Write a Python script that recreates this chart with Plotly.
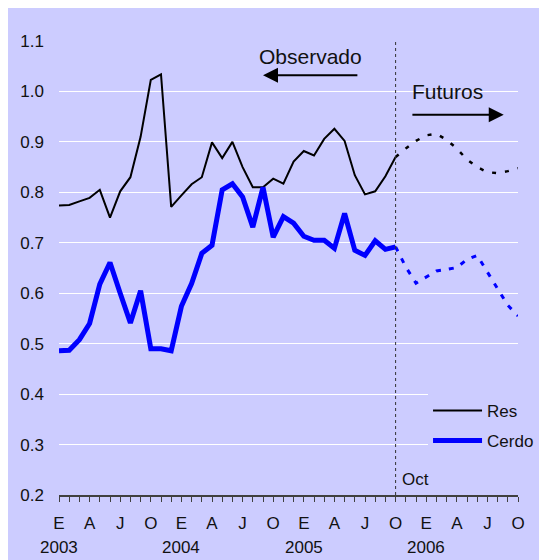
import plotly.graph_objects as go

# ---- data ----
years = [2003, 2004, 2005, 2006]
month_letters = ["E", "F", "M", "A", "M", "J", "J", "A", "S", "O", "N", "D"]
months = [f"{y}-{m:02d}" for y in years for m in range(1, 13)][:46]  # Jan 2003 .. Oct 2006

res_obs = [0.774, 0.775, 0.782, 0.789, 0.805, 0.750, 0.802, 0.830, 0.910, 1.023,
           1.034, 0.771, 0.794, 0.816, 0.830, 0.899, 0.868, 0.900, 0.850, 0.810,
           0.810, 0.827, 0.817, 0.861, 0.882, 0.873, 0.906, 0.926, 0.902, 0.834,
           0.796, 0.802, 0.832, 0.870]
res_fut = [0.870, 0.887, 0.902, 0.913, 0.916, 0.904, 0.887, 0.865, 0.850, 0.840,
           0.838, 0.842, 0.848]
cerdo_obs = [0.486, 0.487, 0.508, 0.540, 0.618, 0.661, 0.600, 0.541, 0.605, 0.490,
             0.490, 0.486, 0.574, 0.619, 0.679, 0.695, 0.805, 0.817, 0.791, 0.731,
             0.810, 0.711, 0.752, 0.739, 0.713, 0.705, 0.705, 0.689, 0.758, 0.685,
             0.675, 0.704, 0.687, 0.692]
cerdo_fut = [0.692, 0.652, 0.620, 0.632, 0.644, 0.647, 0.651, 0.667, 0.675, 0.642,
             0.609, 0.576, 0.555]

obs_months = months[:len(res_obs)]
fut_months = months[len(res_obs) - 1:]
split_month = months[len(res_obs) - 1]

BG = "#CCCCFF"
FONT = "Liberation Sans, Arial, sans-serif"

fig = go.Figure()
fig.add_trace(go.Scatter(x=obs_months, y=res_obs, mode="lines", name="Res",
                         legendgroup="a", line=dict(color="black", width=2)))
fig.add_trace(go.Scatter(x=obs_months, y=cerdo_obs, mode="lines", name="Cerdo",
                         legendgroup="b", line=dict(color="#0000FF", width=5)))
fig.add_trace(go.Scatter(x=fut_months, y=res_fut, mode="lines", showlegend=False,
                         line=dict(color="black", width=2.5, dash="4px,9px")))
fig.add_trace(go.Scatter(x=fut_months, y=cerdo_fut, mode="lines", showlegend=False,
                         line=dict(color="#0000FF", width=3, dash="5px,8px")))

fig.add_vline(x=months.index(split_month), line=dict(color="#333333", width=1, dash="dot"))

ticktext = [month_letters[i % 12] if i % 3 == 0 else "" for i in range(len(months))]

fig.update_xaxes(type="category", categoryorder="array", categoryarray=months,
                 range=[0, len(months) - 1], tickvals=months, ticktext=ticktext,
                 ticks="outside", ticklen=5, tickcolor="#404040", tickwidth=1,
                 showline=True, linecolor="#404040", linewidth=1.5,
                 showgrid=False, zeroline=False, ticklabelstandoff=7,
                 tickfont=dict(size=17, color="#111111", family=FONT))
fig.update_yaxes(range=[0.2, 1.1], dtick=0.1, tick0=0.2, tickformat=".1f",
                 showgrid=True, gridcolor="white", gridwidth=1,
                 showline=False, zeroline=False, ticks="", ticklabelstandoff=14,
                 tickfont=dict(size=17, color="#111111", family=FONT))

annotations = []
for y in years:
    annotations.append(dict(x=months.index(f"{y}-01"), y=-0.115, xref="x", yref="paper",
                            text=str(y), showarrow=False, yanchor="middle",
                            font=dict(size=17, color="#111111", family=FONT)))
annotations.append(dict(x=months.index(split_month), y=0.009, xref="x", yref="paper",
                        text="Oct", showarrow=False, xanchor="left", xshift=4,
                        font=dict(size=17, color="#111111", family=FONT)))
annotations.append(dict(x=24.7, y=1.070, xref="x", yref="y", text="Observado",
                        showarrow=False, font=dict(size=21, color="#111111", family=FONT)))
annotations.append(dict(x=20.0, y=1.032, ax=29.4, ay=1.032, xref="x", yref="y",
                        axref="x", ayref="y", text="", showarrow=True,
                        arrowhead=2, arrowsize=1.5, arrowwidth=2, arrowcolor="black"))
annotations.append(dict(x=38.1, y=1.000, xref="x", yref="y", text="Futuros",
                        showarrow=False, font=dict(size=21, color="#111111", family=FONT)))
annotations.append(dict(x=43.6, y=0.954, ax=34.5, ay=0.954, xref="x", yref="y",
                        axref="x", ayref="y", text="", showarrow=True,
                        arrowhead=2, arrowsize=1.5, arrowwidth=2, arrowcolor="black"))

# page body adds an 8px offset; margins compensate so the plot area lands in place
fig.update_layout(
    width=547, height=560,
    margin=dict(l=45, r=37, t=33, b=73),
    paper_bgcolor=BG, plot_bgcolor=BG,
    font=dict(family=FONT, size=17, color="#111111"),
    annotations=annotations,
    legend=dict(x=0.804, y=0.225, xanchor="left", yanchor="top", bgcolor=BG,
                font=dict(size=17, family=FONT, color="#111111"), itemwidth=49,
                tracegroupgap=5),
)

fig.write_html("out.html")
